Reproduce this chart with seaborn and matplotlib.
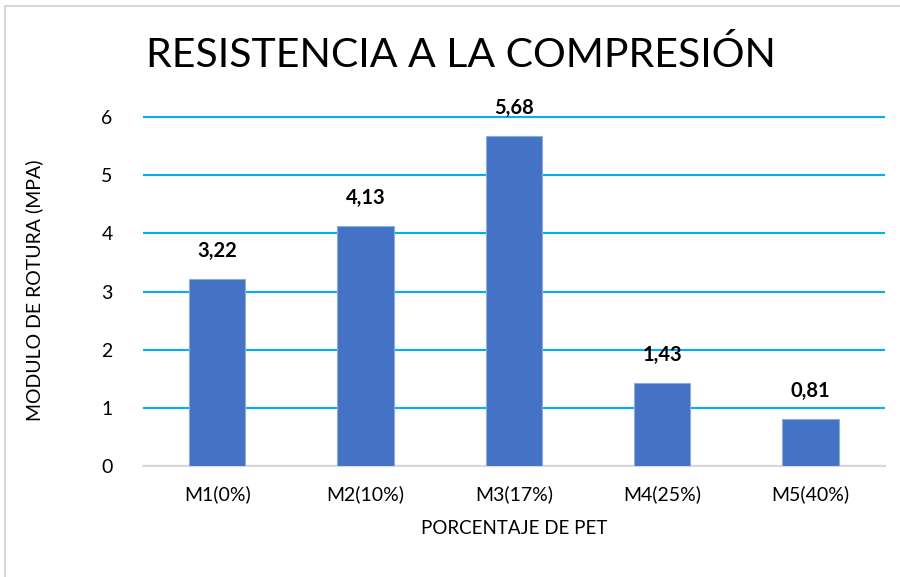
import matplotlib
matplotlib.use('Agg')
import matplotlib.pyplot as plt
import seaborn as sns
import pandas as pd
from matplotlib.patches import Rectangle

muestras = ['M1(0%)', 'M2(10%)', 'M3(17%)', 'M4(25%)', 'M5(40%)']
modulo = [3.22, 4.13, 5.68, 1.43, 0.81]
etiquetas = ['3,22', '4,13', '5,68', '1,43', '0,81']

df = pd.DataFrame({'Muestra': muestras, 'Modulo': modulo})

sns.set_style('white')
plt.rcParams['font.family'] = ['Lato', 'DejaVu Sans']

fig = plt.figure(figsize=(9, 5.77), dpi=100)
ax = fig.add_axes([0.159, 0.1924, 0.824, 0.6078])

sns.barplot(data=df, x='Muestra', y='Modulo', color='#4472C4', width=0.38,
            saturation=1, edgecolor='#8FAADC', linewidth=0.8, ax=ax, zorder=3)

ax.set_ylim(0, 6.03)
ax.set_xlim(-0.5, 4.5)
ax.set_yticks(range(0, 7))
ax.yaxis.grid(True, color='#00B0F0', linewidth=1.5, zorder=0)
ax.set_axisbelow(True)
for s in ['top', 'right', 'left']:
    ax.spines[s].set_visible(False)
ax.spines['bottom'].set_color('#D9D9D9')
ax.spines['bottom'].set_linewidth(1.5)
ax.tick_params(axis='both', length=0, labelsize=14, colors='#000000')
ax.tick_params(axis='y', pad=22)
ax.tick_params(axis='x', pad=14)

ax.bar_label(ax.containers[0], labels=etiquetas, padding=13, fontsize=14.5,
             fontweight='bold', color='#000000', clip_on=False)

ax.set_xlabel('PORCENTAJE DE PET', fontsize=13.5, labelpad=12, color='#000000')
ax.set_ylabel('MODULO DE ROTURA (MPA)', fontsize=14, labelpad=42, color='#000000')
fig.suptitle('RESISTENCIA A LA COMPRESIÓN', fontsize=29.5, fontweight='normal',
             x=0.512, y=0.905, va='center', color='#000000')

fig.patches.append(Rectangle((0.006, -0.1), 1.2, 1.09, transform=fig.transFigure,
                             fill=False, edgecolor='#D9D9D9', linewidth=1.5))

fig.savefig('out.png', dpi=100)
